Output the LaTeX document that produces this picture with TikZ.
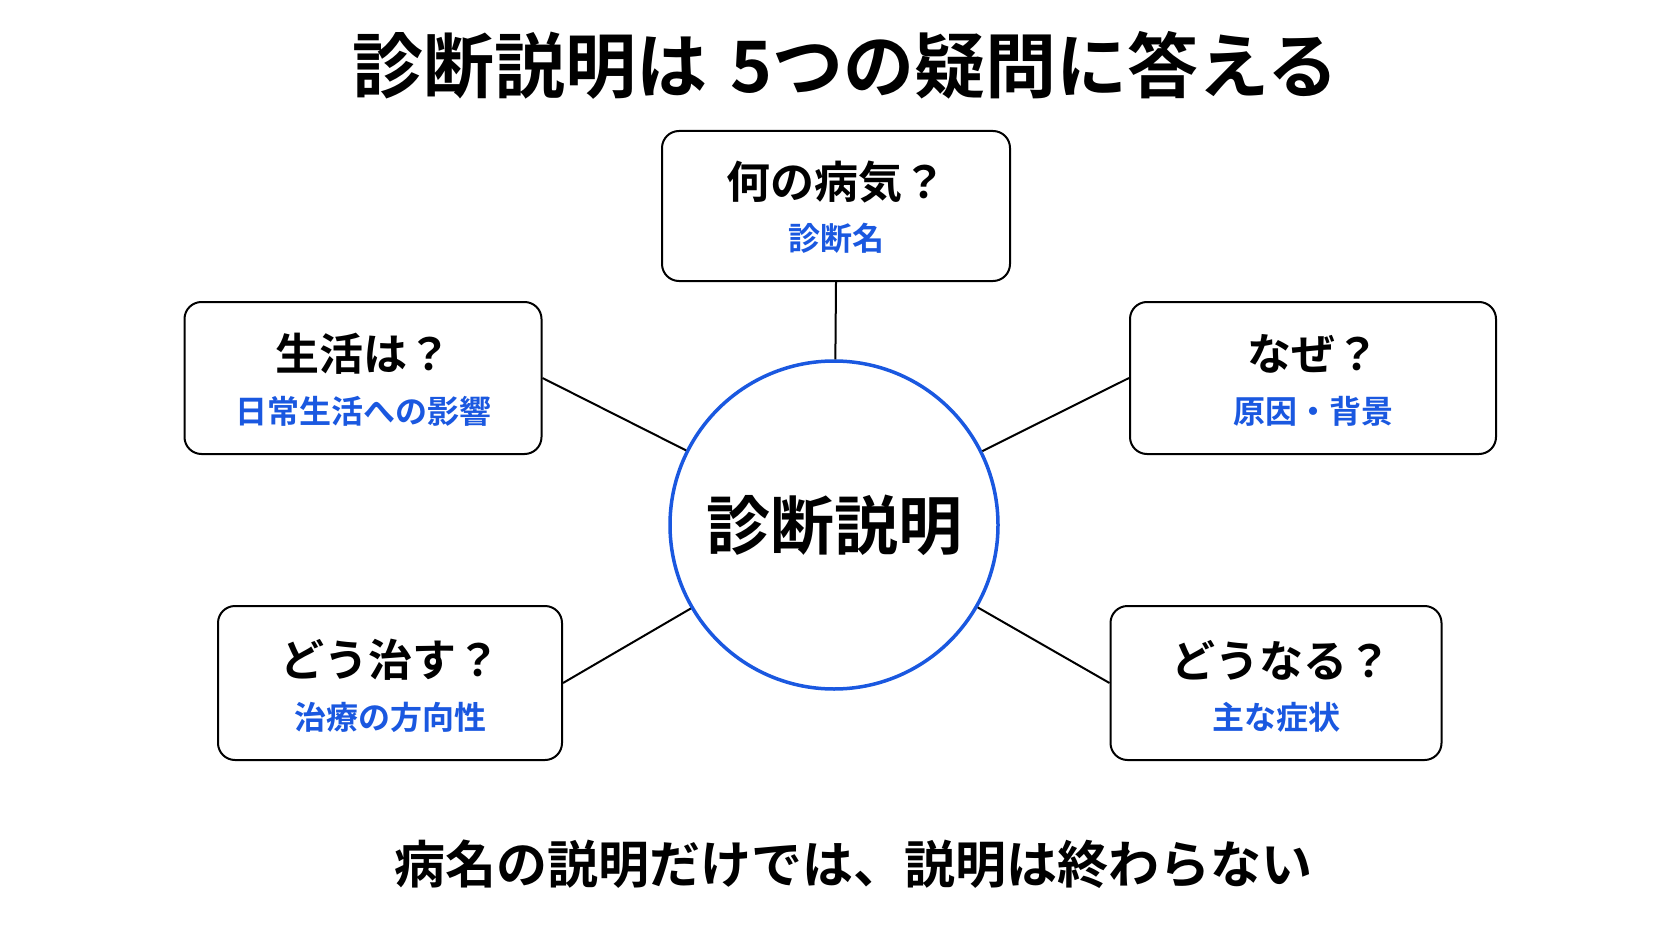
\documentclass[tikz,border=0pt]{standalone}
\usepackage{fontspec}
\setmainfont{Noto Sans CJK JP}[BoldFont={Noto Sans CJK JP Bold}]
\definecolor{diagblue}{HTML}{1A58E0}
\tikzset{
  qbox/.style={draw=black,line width=2pt,rounded corners=17pt,fill=white,inner sep=0pt},
  qtext/.style={font=\fontsize{44}{50}\selectfont\bfseries,inner sep=0pt},
  subtext/.style={font=\fontsize{32}{38}\selectfont\bfseries,text=diagblue,inner sep=0pt},
  link/.style={line width=2pt}
}

\begin{document}
\begin{tikzpicture}[x=1pt,y=-1pt]
\useasboundingbox[fill=white](0,0)rectangle(1672,941);
\node[font=\fontsize{71}{80}\selectfont\bfseries,inner sep=0pt](title)at(845,65){診断説明は\hspace{0.1em} 5つの疑問に答える};
\node[circle,draw=diagblue,line width=3.5pt,minimum size=328pt,inner sep=0pt,font=\fontsize{64}{70}\selectfont\bfseries](core)at(834,525){診断説明};
% the five questions
\node[qbox,minimum width=348pt,minimum height=150pt](what)at(836,206){};
\node[qbox,minimum width=357pt,minimum height=152pt](life)at(363,378){};
\node[qbox,minimum width=366pt,minimum height=152pt](why)at(1313,378){};
\node[qbox,minimum width=344pt,minimum height=154pt](cure)at(390,683){};
\node[qbox,minimum width=331pt,minimum height=154pt](course)at(1276,683){};
\node[qtext](what-q)at([yshift=24pt]what.center){何の病気？};
\node[subtext](what-s)at([yshift=-32pt]what.center){診断名};
\node[qtext](life-q)at([yshift=24pt]life.center){生活は？};
\node[subtext](life-s)at([yshift=-33pt]life.center){日常生活への影響};
\node[qtext](why-q)at([yshift=24pt]why.center){なぜ？};
\node[subtext](why-s)at([yshift=-33pt]why.center){原因・背景};
\node[qtext](cure-q)at([yshift=23pt]cure.center){どう治す？};
\node[subtext](cure-s)at([yshift=-34pt]cure.center){治療の方向性};
\node[qtext](course-q)at([xshift=5pt,yshift=23pt]course.center){どうなる？};
\node[subtext](course-s)at([yshift=-34pt]course.center){主な症状};
\draw[link](what.south)--(core);
\draw[link](life.east)--(core);
\draw[link](why.west)--(core);
\draw[link](cure.east)--(core);
\draw[link](course.west)--(core);
\node[font=\fontsize{51}{56}\selectfont\bfseries,inner sep=0pt](note)at(853,864){病名の説明だけでは、説明は終わらない};
\end{tikzpicture}
\end{document}
